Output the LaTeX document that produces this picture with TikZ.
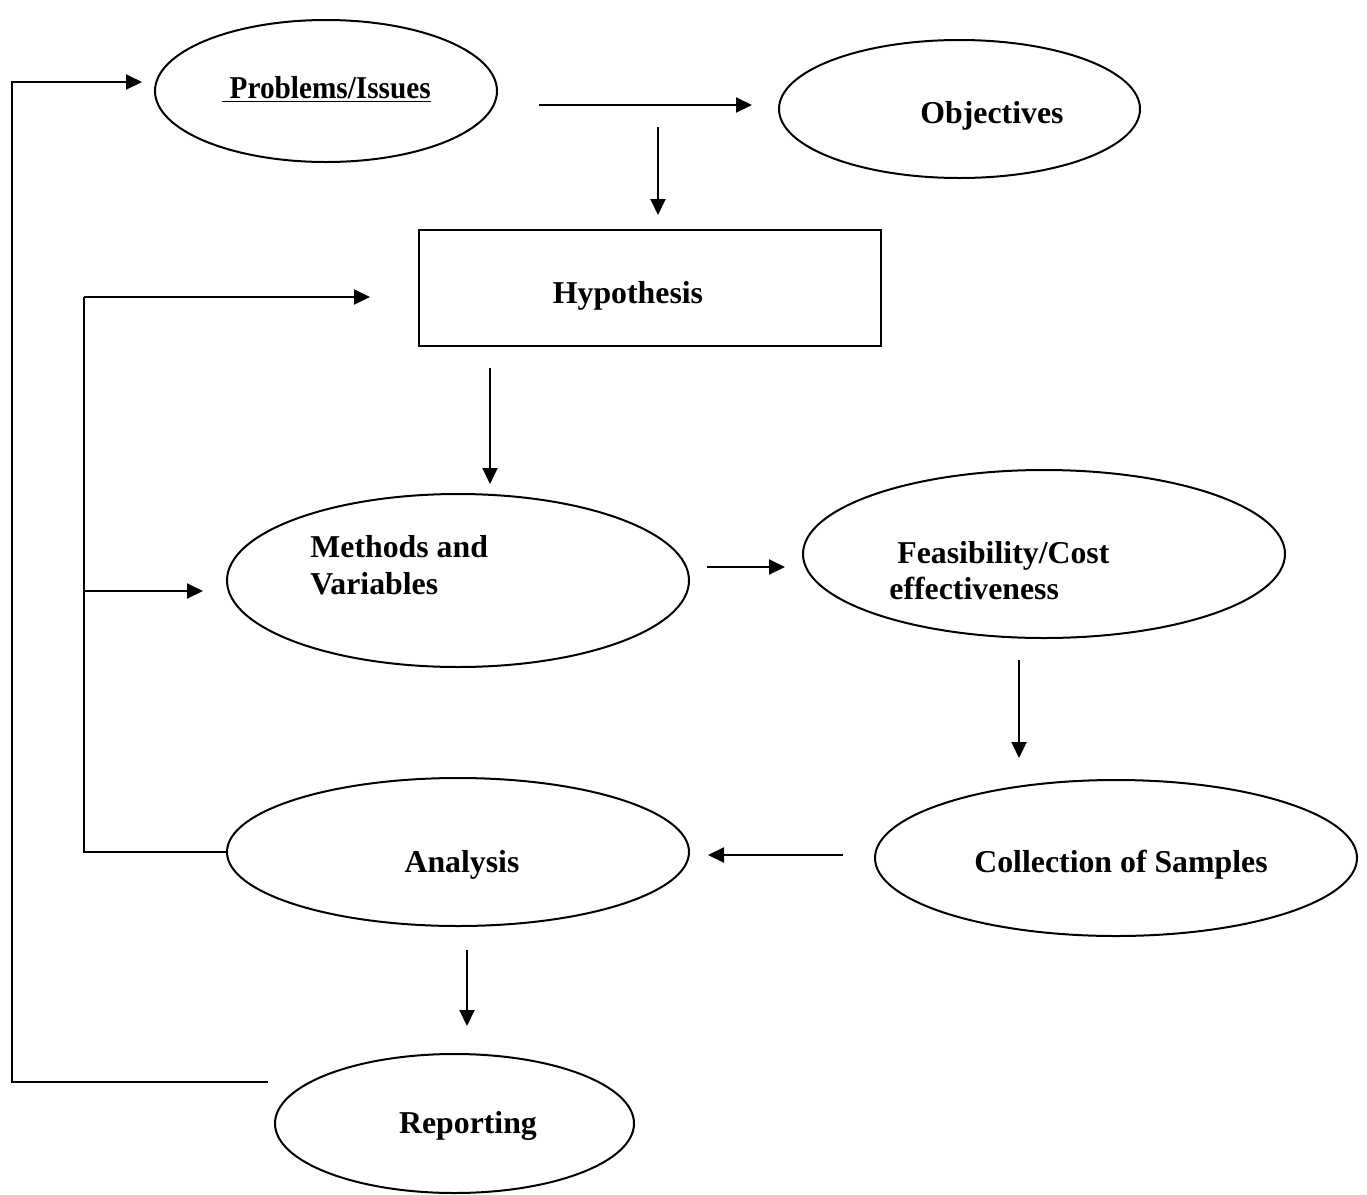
\documentclass[tikz,border=0pt]{standalone}
\usepackage{fontspec}
\setmainfont{Liberation Serif}
\usetikzlibrary{shapes.geometric,arrows.meta}
\begin{document}
\begin{tikzpicture}[x=0.5pt,y=-0.5pt,
  every node/.style={font=\fontsize{15.9}{18}\selectfont\bfseries},
  oval/.style={draw,ellipse,line width=1pt,inner sep=0pt},
  boxnode/.style={draw,rectangle,line width=1pt,inner sep=0pt},
  lbl/.style={inner sep=0pt},
  conn/.style={line width=1pt},
  arr/.style={line width=1pt,-{Triangle[length=8pt,width=7.5pt]}}]
\useasboundingbox (0,0) rectangle (1367,1195);
% shapes
\node[oval,minimum width=171pt,minimum height=71pt] (prob) at (326,91) {};
\node[oval,minimum width=180.5pt,minimum height=69pt] (obj) at (959.5,109) {};
\node[boxnode,minimum width=231pt,minimum height=58pt] (hyp) at (650,288) {};
\node[oval,minimum width=231pt,minimum height=86.5pt] (meth) at (458,580.5) {};
\node[oval,minimum width=241pt,minimum height=84pt] (feas) at (1044,554) {};
\node[oval,minimum width=241pt,minimum height=78pt] (coll) at (1116,858) {};
\node[oval,minimum width=231pt,minimum height=74pt] (anal) at (458,852) {};
\node[oval,minimum width=179.5pt,minimum height=69.5pt] (rep) at (454.5,1123.5) {};
% labels
\node[lbl,anchor=base west] (probt) at (222,98) {\scalebox{0.92}[1]{\underline{~Problems/Issues}}};
\node[lbl,anchor=base] (objt) at (992,123) {Objectives};
\node[lbl,anchor=base] (hypt) at (628,303) {Hypothesis};
\node[lbl,anchor=base west] (metha) at (310,557) {Methods and};
\node[lbl,anchor=base west] (methb) at (310,594) {Variables};
\node[lbl,anchor=base west] (feasa) at (897,563) {Feasibility/Cost};
\node[lbl,anchor=base west] (feasb) at (889,599) {effectiveness};
\node[lbl,anchor=base] (analt) at (462,872) {Analysis};
\node[lbl,anchor=base] (collt) at (1121,872) {Collection of Samples};
\node[lbl,anchor=base] (rept) at (468,1133) {Reporting};
% connector end points
\coordinate (c1s) at (539,105);  \coordinate (c1e) at (752,105);
\coordinate (c2s) at (658,127);  \coordinate (c2e) at (658,215);
\coordinate (c3s) at (268,1082); \coordinate (c3a) at (12,1082);
\coordinate (c3b) at (12,82);    \coordinate (c3e) at (142,82);
\coordinate (c4a) at (84,852);   \coordinate (c4b) at (84,297);
\coordinate (c4e) at (370,297);
\coordinate (c5s) at (84,591);   \coordinate (c5e) at (203,591);
\coordinate (c6s) at (490,368);  \coordinate (c6e) at (490,484);
\coordinate (c7s) at (707,567);  \coordinate (c7e) at (785,567);
\coordinate (c8s) at (1019,660); \coordinate (c8e) at (1019,758);
\coordinate (c9s) at (843,855);  \coordinate (c9e) at (708,855);
\coordinate (c10s) at (467,950); \coordinate (c10e) at (467,1026);
% connectors
\draw[arr] (c1s) -- (c1e);
\draw[arr] (c2s) -- (c2e);
\draw[arr] (c3s) -- (c3a) -- (c3b) -- (c3e);
\draw[conn] (anal.west) -- (c4a) -- (c4b);
\draw[arr] (c4b) -- (c4e);
\draw[arr] (c5s) -- (c5e);
\draw[arr] (c6s) -- (c6e);
\draw[arr] (c7s) -- (c7e);
\draw[arr] (c8s) -- (c8e);
\draw[arr] (c9s) -- (c9e);
\draw[arr] (c10s) -- (c10e);
\end{tikzpicture}
\end{document}
